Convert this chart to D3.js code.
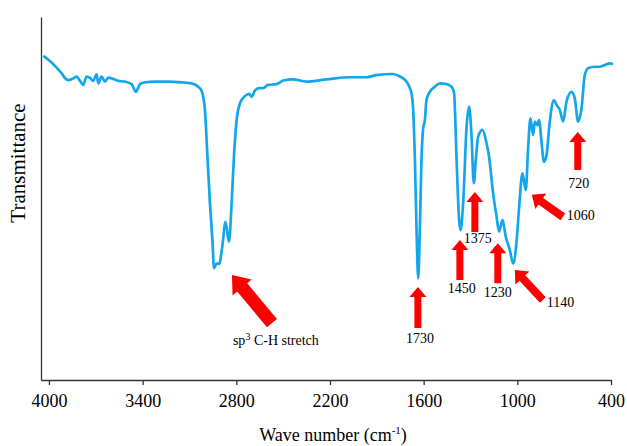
<!DOCTYPE html>
<html>
<head>
<meta charset="utf-8">
<script src="https://cdn.jsdelivr.net/npm/d3@7"></script>
<style>
  body { margin: 0; background: #fff; }
  svg { display: block; font-family: "Liberation Serif", "Times New Roman", serif; }
</style>
</head>
<body>
<div class="playground"></div>
<script>
// spectrum (wave number, transmittance %)
var wavenumber = [
  4036, 4004, 3972, 3944, 3919, 3898, 3876, 3844, 3823, 3801,
  3780, 3759, 3737, 3716, 3695, 3684, 3663, 3641, 3620, 3588,
  3556, 3513, 3470, 3443, 3417, 3385, 3321, 3236, 3150, 3086,
  3044, 3022, 3001, 2986, 2969, 2952, 2943, 2926, 2910, 2890,
  2869, 2847, 2830, 2814, 2798, 2777, 2745, 2717, 2702, 2681,
  2655, 2628, 2596, 2542, 2500, 2436, 2350, 2222, 2073, 1966,
  1902, 1796, 1752, 1710, 1688, 1678, 1667, 1656, 1646, 1635,
  1624, 1614, 1603, 1592, 1582, 1560, 1528, 1496, 1454, 1421,
  1405, 1389, 1373, 1364, 1347, 1325, 1309, 1293, 1279, 1266,
  1251, 1223, 1197, 1181, 1155, 1133, 1117, 1095, 1074, 1048,
  1027, 1005,  989,  967,  946,  931,  916,  899,  888,  873,
   861,  845,  830,  813,  792,  766,  749,  728,  707,  685,
   653,  632,  611,  589,  568,  547,  504,  472,  440,  408,
   387
];
var transmittance = [
  89.3, 88.2, 87.0, 85.7, 84.5, 83.2, 82.6, 83.1, 83.6, 82.4,
  81.3, 83.6, 83.2, 82.4, 84.2, 81.7, 83.6, 82.2, 83.3, 82.9,
  82.4, 82.2, 81.5, 79.4, 81.5, 82.0, 82.2, 82.2, 82.0, 81.7,
  80.8, 79.6, 74.4, 62.5, 48.8, 37.7, 30.8, 32.1, 32.0, 36.7,
  43.6, 38.1, 48.8, 62.5, 71.6, 76.2, 78.2, 78.8, 78.0, 79.7,
  80.4, 80.4, 81.3, 81.5, 82.5, 82.8, 82.2, 82.8, 83.4, 83.4,
  84.0, 84.3, 83.6, 82.2, 80.4, 79.0, 74.4, 60.6, 42.2, 28.0,
  42.2, 60.6, 69.3, 71.6, 77.1, 79.4, 80.8, 81.7, 81.5, 80.8,
  79.0, 60.6, 44.1, 41.3, 48.7, 69.8, 75.3, 67.0, 54.2, 60.6,
  67.0, 68.9, 65.2, 61.5, 51.4, 45.0, 40.9, 44.1, 39.5, 35.8,
  32.1, 38.1, 47.3, 56.9, 52.3, 63.8, 72.1, 67.5, 71.2, 70.2,
  71.6, 65.6, 60.1, 62.0, 71.2, 77.1, 75.8, 74.4, 71.2, 76.7,
  79.4, 77.6, 71.2, 74.8, 84.0, 85.9, 86.3, 86.3, 86.8, 87.2,
  87.0
];

var xTicks = [4000, 3400, 2800, 2200, 1600, 1000, 400];

// peak annotations: text and where the arrow points (wave number, transmittance)
var peakLabels = ["C-H stretch", "1730", "1450", "1375", "1230", "1140", "1060", "720"];
var peakWavenumber = [2828, 1637, 1368, 1272, 1125, 1016, 907, 613];
var peakTransmittance = [28.9, 25.6, 38.6, 51.8, 37.7, 30.3, 51.0, 68.3];

var width = 627, height = 446;

var svg = d3.select('.playground')
  .append('svg')
  .attr('width', width)
  .attr('height', height);

var x = d3.scaleLinear().domain([4051, 400]).range([41, 611]);
var y = d3.scaleLinear().domain([0, 100]).range([380, 17]);

// axes
var xAxis = svg.append('g')
  .attr('transform', 'translate(0,380)')
  .call(d3.axisBottom(x).tickValues(xTicks).tickSize(5).tickSizeOuter(0).tickFormat(d3.format('d')));
xAxis.attr('font-family', null).attr('font-size', null);
xAxis.selectAll('path, line').attr('stroke', '#333').attr('stroke-width', 1.3);
xAxis.selectAll('text')
  .attr('y', 27).attr('dy', null)
  .attr('fill', '#000')
  .style('font-size', '18px');

var yAxis = svg.append('g')
  .attr('transform', 'translate(41,0)')
  .call(d3.axisLeft(y).tickValues([]).tickSizeOuter(0));
yAxis.select('path').attr('stroke', '#333').attr('stroke-width', 1.3);

// axis titles
var xTitle = svg.append('text')
  .attr('x', 333).attr('y', 441)
  .attr('text-anchor', 'middle')
  .style('font-size', '18px')
  .text('Wave number (cm');
xTitle.append('tspan').attr('dy', -7).style('font-size', '11px').text('-1');
xTitle.append('tspan').attr('dy', 7).text(')');

svg.append('text')
  .attr('transform', 'translate(25,163) rotate(-90)')
  .attr('text-anchor', 'middle')
  .style('font-size', '21px')
  .text('Transmittance');

// spectrum
var points = wavenumber.map(function(w, i){ return [w, transmittance[i]]; });

var line = d3.line()
  .x(function(d){ return x(d[0]); })
  .y(function(d){ return y(d[1]); })
  .curve(d3.curveMonotoneX);

svg.append('path')
  .datum(points)
  .attr('fill', 'none')
  .attr('stroke', '#14a6ea')
  .attr('stroke-width', 2.7)
  .attr('stroke-linejoin', 'round')
  .attr('d', line);

// arrow layout in pixels, relative to the tip: tail offset, label offset, anchor, sizes
var arrowLayout = [
  {tail: [40, 48], label: [1, 70], anchor: 'start', shaft: 13, head: 25, headLen: 16},
  {tail: [0, 41], label: [2, 56], anchor: 'middle', shaft: 7, head: 17, headLen: 10},
  {tail: [0, 40], label: [2, 53], anchor: 'middle', shaft: 7, head: 17, headLen: 10},
  {tail: [0, 40], label: [3, 51], anchor: 'middle', shaft: 7, head: 17, headLen: 10},
  {tail: [0, 40], label: [0, 54], anchor: 'middle', shaft: 7, head: 17, headLen: 10},
  {tail: [28, 30], label: [32, 37], anchor: 'start', shaft: 8, head: 19, headLen: 11},
  {tail: [31, 22], label: [35, 25], anchor: 'start', shaft: 8, head: 19, headLen: 11},
  {tail: [0, 38], label: [1, 56], anchor: 'middle', shaft: 7, head: 17, headLen: 10}
];

var arrowPoints = function(tx, ty, ax, ay, sw, hw, hl){
  var dx = tx - ax, dy = ty - ay;
  var len = Math.sqrt(dx*dx + dy*dy);
  var ux = dx/len, uy = dy/len;
  var nx = -uy, ny = ux;
  var bx = tx - ux*hl, by = ty - uy*hl;
  return [
    [ax + nx*sw/2, ay + ny*sw/2],
    [bx + nx*sw/2, by + ny*sw/2],
    [bx + nx*hw/2, by + ny*hw/2],
    [tx, ty],
    [bx - nx*hw/2, by - ny*hw/2],
    [bx - nx*sw/2, by - ny*sw/2],
    [ax - nx*sw/2, ay - ny*sw/2]
  ].map(function(p){ return p.join(','); }).join(' ');
};

peakLabels.forEach(function(label, i){
  var lay = arrowLayout[i];
  var tx = x(peakWavenumber[i]), ty = y(peakTransmittance[i]);
  svg.append('polygon')
    .attr('points', arrowPoints(tx, ty, tx + lay.tail[0], ty + lay.tail[1], lay.shaft, lay.head, lay.headLen))
    .attr('fill', '#ff0000');

  var t = svg.append('text')
    .attr('x', tx + lay.label[0])
    .attr('y', ty + lay.label[1])
    .attr('text-anchor', lay.anchor)
    .style('font-size', '14px');
  if (i === 0) {
    t.append('tspan').text('sp');
    t.append('tspan').attr('dy', -5).style('font-size', '10px').text('3');
    t.append('tspan').attr('dy', 5).text(' ' + label);
  } else {
    t.text(label);
  }
});
</script>
</body>
</html>
